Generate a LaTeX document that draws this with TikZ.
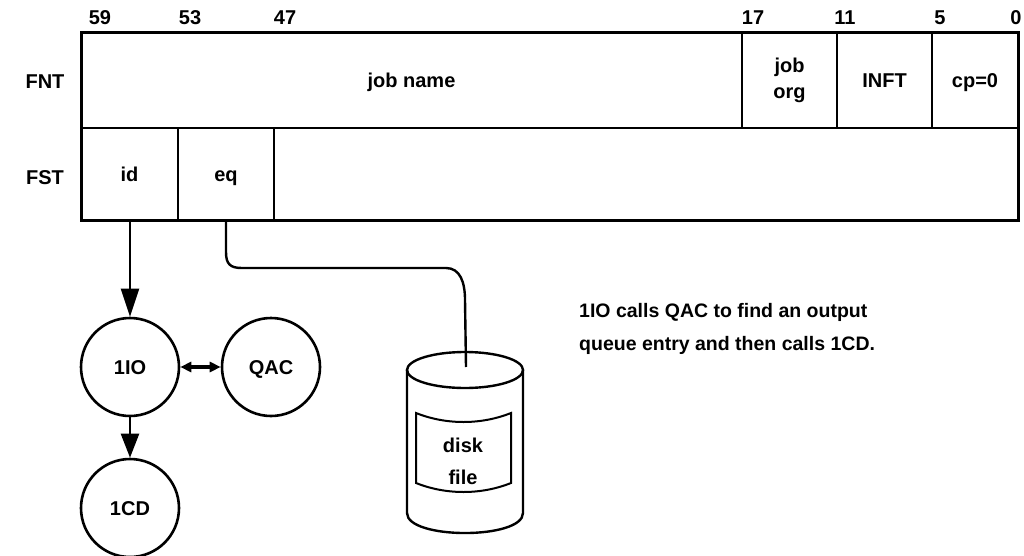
\documentclass[tikz,border=0pt]{standalone}
\usepackage{fontspec}
\setmainfont{Liberation Sans}
\usetikzlibrary{arrows.meta}
\tikzset{
  txtml/.style={font=\fontsize{20}{22}\selectfont\bfseries, inner sep=0pt},
  txt/.style={txtml, text height=14.4pt, text depth=0pt},
  fieldbox/.style={draw, line width=2pt, inner sep=0pt},
  field/.style={fieldbox, txt},
  proc/.style={circle, draw, line width=2.6pt, minimum size=98pt, inner sep=0pt, txt},
  conn/.style={line width=2.4pt},
  bigarrow/.style={conn, -{Triangle[length=28pt,width=18pt]}},
  midarrow/.style={conn, -{Triangle[length=24pt,width=18pt]}},
  dblarrow/.style={line width=3.2pt, {Triangle[length=11pt,width=10pt]}-{Triangle[length=11pt,width=10pt]}},
}
\begin{document}
\begin{tikzpicture}[x=1pt,y=-1pt]
\useasboundingbox (0,0) rectangle (1024,556);
% bit numbers
\node[txt] (b59) at (100,17) {59};
\node[txt] (b53) at (190,17) {53};
\node[txt] (b47) at (285,17) {47};
\node[txt] (b17) at (753,17) {17};
\node[txt] (b11) at (845,17) {11};
\node[txt] (b5) at (940,17) {5};
\node[txt] (b0) at (1016,17) {0};
% row labels
\node[txt] (fnt) at (45,81) {FNT};
\node[txt] (fst) at (45,177) {FST};
% FNT row
\node[field, minimum width=661pt, minimum height=95pt] (jobname) at (411.5,80.5) {job name};
\node[fieldbox, txtml, minimum width=95pt, minimum height=95pt, align=center, font=\fontsize{20}{26}\selectfont\bfseries] (joborg) at (789.5,80.5) {job\\org};
\node[field, minimum width=95pt, minimum height=95pt] (inft) at (884.5,80.5) {INFT};
\node[field, minimum width=86pt, minimum height=95pt] (cp) at (975,80.5) {cp=0};
% FST row
\node[field, minimum width=97pt, minimum height=92pt] (id) at (129.5,174) {id};
\node[field, minimum width=96pt, minimum height=92pt] (eq) at (226,174) {eq};
\node[field, minimum width=744pt, minimum height=92pt] (rest) at (646,174) {};
% outer border
\draw[line width=3pt] (81,33) rectangle (1018,220);
% processes
\node[proc] (io) at (130,367) {1IO};
\node[proc] (qac) at (271,367) {QAC};
\node[proc] (cd) at (130,508) {1CD};
\draw[bigarrow] (id.south -| io.north) -- (io.north);
\draw[midarrow] (io.south) -- (cd.north);
\draw[dblarrow] (io.east) -- (qac.west);
% disk
\draw[line width=2.4pt] (465,370) ellipse [x radius=58, y radius=18];
\draw[line width=2.4pt] (407,370) -- (407,513) .. controls (407,539.7) and (523,539.7) .. (523,513) -- (523,370);
\draw[line width=2pt] (416,413) .. controls (446,425) and (481,425) .. (511,413) -- (511,483) .. controls (481,495) and (446,495) .. (416,483) -- cycle;
\node[txtml, align=center, font=\fontsize{20}{32}\selectfont\bfseries] (diskfile) at (463,461) {disk\\file};
\coordinate (disktop) at (466,367);
\draw[conn] (eq.south) -- (226,252) .. controls (226,264) and (230,268) .. (242,268) -- (446,268) .. controls (460,268) and (465,282) .. (465,300) -- (disktop);
% note
\node[txtml, anchor=west, align=left, font=\fontsize{19.5}{33}\selectfont\bfseries] (note) at (579,328.5) {1IO calls QAC to find an output\\queue entry and then calls 1CD.};
\end{tikzpicture}
\end{document}
